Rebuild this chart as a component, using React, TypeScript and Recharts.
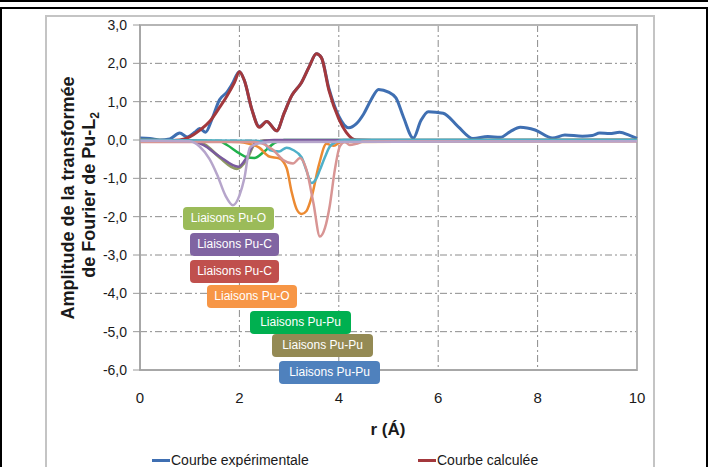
import React from "react";
import {
  LineChart,
  Line,
  XAxis,
  YAxis,
  CartesianGrid,
  ReferenceArea,
} from "recharts";

// r (Å), amplitude
const courbeExperimentale: [number, number][] = [
  [0, 0.05], [0.2, 0.04], [0.4, 0.0], [0.6, 0.03], [0.8, 0.18], [0.95, 0.08],
  [1.1, 0.2], [1.2, 0.3], [1.32, 0.2], [1.45, 0.55], [1.6, 1.05], [1.75, 1.25],
  [1.85, 1.45], [2.0, 1.78], [2.1, 1.55], [2.25, 0.8], [2.4, 0.35], [2.55, 0.48],
  [2.75, 0.24], [2.9, 0.7], [3.05, 1.15], [3.25, 1.5], [3.4, 1.9], [3.55, 2.25],
  [3.65, 2.15], [3.8, 1.35], [4.0, 0.62], [4.2, 0.32], [4.35, 0.42], [4.5, 0.68],
  [4.65, 1.05], [4.8, 1.32], [5.0, 1.25], [5.15, 1.1], [5.3, 0.6], [5.5, 0.05],
  [5.65, 0.5], [5.8, 0.74], [6.1, 0.7], [6.4, 0.35], [6.7, 0.04], [7.0, 0.09],
  [7.25, 0.07], [7.45, 0.22], [7.65, 0.33], [7.95, 0.26], [8.3, 0.05], [8.55, 0.13],
  [8.9, 0.1], [9.1, 0.12], [9.25, 0.18], [9.45, 0.17], [9.65, 0.2], [9.85, 0.12],
  [10, 0.04],
];

const courbeCalculee: [number, number][] = [
  [0, -0.02], [0.5, -0.02], [0.8, 0.0], [1.0, 0.08], [1.2, 0.25], [1.4, 0.48],
  [1.6, 0.85], [1.75, 1.15], [1.9, 1.5], [2.0, 1.78], [2.1, 1.55], [2.25, 0.8],
  [2.4, 0.33], [2.55, 0.48], [2.75, 0.24], [2.9, 0.7], [3.05, 1.15], [3.25, 1.5],
  [3.4, 1.9], [3.55, 2.25], [3.65, 2.15], [3.8, 1.3], [4.0, 0.55], [4.15, 0.2],
  [4.35, 0.0], [5, -0.02], [10, -0.02],
];

const puO1: [number, number][] = [
  [0, 0], [1.0, -0.02], [1.3, -0.12], [1.6, -0.45], [1.95, -0.75], [2.15, -0.5],
  [2.3, -0.12], [2.5, -0.02], [10, 0],
];

const puC1: [number, number][] = [
  [0, 0], [1.0, -0.02], [1.27, -0.13], [1.6, -0.43], [1.98, -0.7], [2.14, -0.47],
  [2.3, -0.1], [2.5, -0.02], [2.7, 0], [10, 0],
];

const puC2: [number, number][] = [
  [0, -0.02], [1.0, -0.03], [1.2, -0.17], [1.4, -0.5], [1.55, -0.9], [1.72, -1.45],
  [1.87, -1.7], [2.0, -1.45], [2.1, -1.0], [2.21, -0.2], [2.35, -0.1], [2.6, -0.05],
  [10, -0.03],
];

const puO2: [number, number][] = [
  [0, 0], [1.6, -0.03], [1.75, -0.13], [2.0, -0.35], [2.15, -0.45], [2.3, -0.47],
  [2.5, -0.3], [2.7, -0.08], [2.9, 0], [10, 0],
];

const puPu1: [number, number][] = [
  [0, -0.02], [2.0, -0.05], [2.2, -0.1], [2.4, -0.2], [2.6, -0.43], [2.8, -0.48],
  [2.95, -0.73], [3.05, -1.35], [3.15, -1.8], [3.25, -1.93], [3.35, -1.85],
  [3.45, -1.5], [3.6, -0.65], [3.75, -0.1], [3.9, -0.15], [4.05, -0.05], [10, -0.02],
];

const puPu2: [number, number][] = [
  [0, 0], [2.3, -0.02], [2.48, -0.05], [2.61, -0.26], [2.8, -0.3], [2.95, -0.2],
  [3.08, -0.26], [3.25, -0.45], [3.35, -0.8], [3.45, -1.12], [3.55, -1.0],
  [3.62, -0.78], [3.72, -0.45], [3.82, -0.17], [3.95, -0.05], [4.1, 0], [10, 0],
];

const puPu3: [number, number][] = [
  [0, -0.05], [2.3, -0.05], [2.48, -0.1], [2.68, -0.26], [2.88, -0.52], [3.08, -0.61],
  [3.22, -0.47], [3.35, -0.78], [3.49, -1.65], [3.62, -2.52], [3.72, -2.3],
  [3.82, -1.7], [3.92, -0.78], [4.02, -0.17], [4.12, -0.05], [4.22, -0.13],
  [4.35, -0.1], [4.5, -0.04], [5.0, -0.03], [10, -0.03],
];

const xTicks = [0, 2, 4, 6, 8, 10];
const yTicks = [-6, -5, -4, -3, -2, -1, 0, 1, 2, 3];

const liaisons = [
  "Liaisons Pu-O",
  "Liaisons Pu-C",
  "Liaisons Pu-C",
  "Liaisons Pu-O",
  "Liaisons Pu-Pu",
  "Liaisons Pu-Pu",
  "Liaisons Pu-Pu",
];

const legendNames = ["Courbe expérimentale", "Courbe calculée"];

const toPts = (a: [number, number][]) => a.map(([r, v]) => ({ r, v }));

const FONT = "'Liberation Sans', Arial, sans-serif";

// box layout for the annotation labels (left, top, width, colour)
const labelBoxes = [
  { left: 183, top: 207, width: 91, color: "#9bbb59" },
  { left: 190, top: 233, width: 89, color: "#8064a2" },
  { left: 190, top: 260, width: 89, color: "#c0504d" },
  { left: 207, top: 285, width: 90, color: "#f79646" },
  { left: 250, top: 311, width: 101, color: "#00b050" },
  { left: 272, top: 334, width: 101, color: "#948a54" },
  { left: 279, top: 361, width: 101, color: "#4f81bd" },
];

const series = [
  { data: courbeExperimentale, color: "#3f6fb2", width: 3 },
  { data: courbeCalculee, color: "#a3383c", width: 3 },
  { data: puO2, color: "#1fb14b", width: 2.5 },
  { data: puO1, color: "#8f9a62", width: 3 },
  { data: puC1, color: "#7a5b9e", width: 2.5 },
  { data: puPu1, color: "#ec8a32", width: 2.5 },
  { data: puPu2, color: "#4fb0c9", width: 2.5 },
  { data: puPu3, color: "#d89594", width: 2.5 },
  { data: puC2, color: "#b6a5cb", width: 2.5 },
];

const fmt = (v: number) => v.toFixed(1).replace(".", ",");

function YTitle() {
  return (
    <g fontFamily={FONT} fontWeight="bold" fontSize={18} fill="#1a1a1a">
      <text x={73.5} y={198} transform="rotate(-90 73.5 198)" textAnchor="middle">
        Amplitude de la transformée
      </text>
      <text x={94.5} y={195} transform="rotate(-90 94.5 195)" textAnchor="middle">
        de Fourier de Pu-L
        <tspan fontSize={12} dy={4}>2</tspan>
      </text>
    </g>
  );
}

function XTitle() {
  return (
    <text
      x={388}
      y={435}
      textAnchor="middle"
      fontFamily={FONT}
      fontWeight="bold"
      fontSize={17}
      fill="#1a1a1a"
    >
      r (Á)
    </text>
  );
}

const legendRow: React.CSSProperties = {
  position: "absolute",
  top: 453,
  height: 14,
  lineHeight: "14px",
  display: "flex",
  alignItems: "center",
  fontSize: 14,
  color: "#1a1a1a",
  whiteSpace: "nowrap",
};

export default function App() {
  return (
    <div
      style={{
        position: "absolute",
        left: 0,
        top: 0,
        width: 708,
        height: 467,
        overflow: "hidden",
        background: "#fff",
        fontFamily: FONT,
      }}
    >
      {/* page borders */}
      <div style={{ position: "absolute", left: 0, top: 0, width: 708, height: 2, background: "#000" }} />
      <div style={{ position: "absolute", left: 0, top: 7, width: 708, height: 2, background: "#000" }} />
      <div style={{ position: "absolute", left: 0, top: 7, width: 2, height: 460, background: "#000" }} />
      <div style={{ position: "absolute", left: 706, top: 7, width: 2, height: 460, background: "#000" }} />
      <div
        style={{
          position: "absolute",
          left: 45,
          top: 15,
          width: 606,
          height: 500,
          border: "2px solid #c4c4c4",
        }}
      />

      <div style={{ position: "absolute", left: 0, top: 0 }}>
        <LineChart width={708} height={467} margin={{ top: 25, right: 71, bottom: 37, left: 0 }}>
          <CartesianGrid
            stroke="#8c8c8c"
            strokeDasharray="7 3 2 3"
            strokeWidth={1}
          />
          <ReferenceArea
            x1={0}
            x2={10}
            y1={-6}
            y2={3}
            fill="none"
            stroke="#b5b5b5"
            strokeWidth={2}
            ifOverflow="visible"
          />
          <XAxis
            dataKey="r"
            type="number"
            domain={[0, 10]}
            ticks={xTicks}
            height={60}
            tickLine={false}
            tickSize={0}
            tickMargin={22}
            axisLine={{ stroke: "#9a9a9a" }}
            tick={{ fontSize: 15, fill: "#1a1a1a", fontFamily: FONT }}
            allowDuplicatedCategory={false}
            label={{ content: () => <XTitle /> }}
          />
          <YAxis
            type="number"
            domain={[-6, 3]}
            ticks={yTicks}
            width={140}
            tickSize={7}
            tickMargin={6}
            tickLine={{ stroke: "#9a9a9a" }}
            axisLine={{ stroke: "#9a9a9a" }}
            tickFormatter={fmt}
            tick={{ fontSize: 14, fill: "#1a1a1a", fontFamily: FONT }}
            label={{ content: () => <YTitle /> }}
          />
          {series.map((s, i) => (
            <Line
              key={i}
              data={toPts(s.data)}
              dataKey="v"
              type="monotone"
              stroke={s.color}
              strokeWidth={s.width}
              dot={false}
              activeDot={false}
              isAnimationActive={false}
            />
          ))}
        </LineChart>
      </div>

      {/* annotation labels */}
      {labelBoxes.map((b, i) => (
        <div
          key={i}
          style={{
            position: "absolute",
            left: b.left,
            top: b.top,
            width: b.width,
            height: 23,
            lineHeight: "23px",
            background: b.color,
            borderRadius: 4,
            color: "#fff",
            fontSize: 12,
            textAlign: "center",
            whiteSpace: "nowrap",
          }}
        >
          {liaisons[i]}
        </div>
      ))}

      {/* legend */}
      <div style={{ ...legendRow, left: 152 }}>
        <span style={{ display: "inline-block", width: 18, height: 3, background: "#3f6fb2", marginRight: 1 }} />
        {legendNames[0]}
      </div>
      <div style={{ ...legendRow, left: 418 }}>
        <span style={{ display: "inline-block", width: 18, height: 3, background: "#a3383c", marginRight: 1 }} />
        {legendNames[1]}
      </div>
    </div>
  );
}
